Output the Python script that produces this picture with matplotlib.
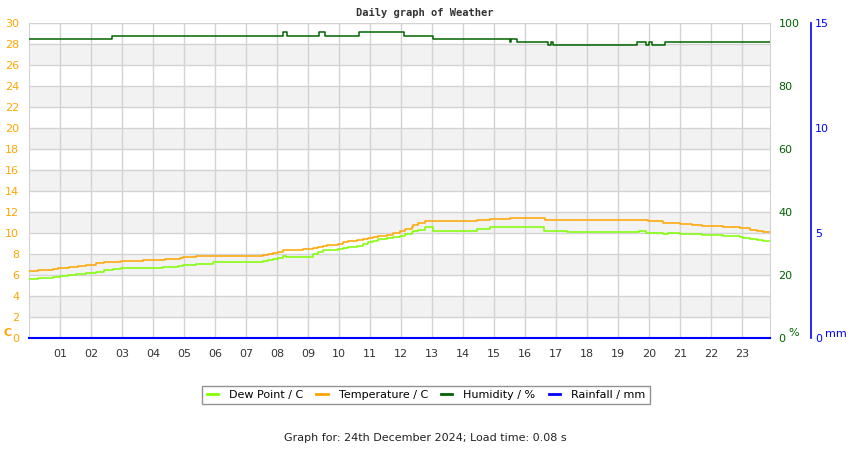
import matplotlib
matplotlib.use("Agg")
import matplotlib.pyplot as plt
import numpy as np

# hour of day -> value, drawn as steps
temp_hours = [0, 0.29, 0.77, 0.94, 1.28, 1.58, 1.85, 2.17, 2.42, 2.98, 3.68, 4.38, 4.86,
              4.97, 5.4, 7.56, 7.72, 7.88, 8.04, 8.2, 8.85, 9.17, 9.33, 9.49, 9.6, 9.98,
              10.14, 10.3, 10.57, 10.78, 10.95, 11.1, 11.27, 11.54, 11.75, 11.97, 12.13,
              12.35, 12.4, 12.56, 12.77, 14.44, 14.87, 15.52, 16.65, 19.98, 20.46, 21.0,
              21.38, 21.7, 22.4, 22.94, 23.26, 23.47, 23.69, 23.9]
temp_vals = [6.4, 6.5, 6.6, 6.7, 6.8, 6.9, 7.0, 7.1, 7.2, 7.3, 7.4, 7.5, 7.6,
             7.7, 7.8, 7.9, 8.0, 8.1, 8.2, 8.4, 8.5, 8.6, 8.7, 8.8, 8.9, 9.0,
             9.1, 9.2, 9.3, 9.4, 9.5, 9.6, 9.7, 9.8, 10.0, 10.2, 10.4,
             10.6, 10.8, 11.0, 11.1, 11.2, 11.3, 11.4, 11.2, 11.1, 11.0, 10.9,
             10.8, 10.7, 10.6, 10.5, 10.3, 10.2, 10.1, 10.1]

dew_hours = [0, 0.29, 0.77, 0.99, 1.26, 1.53, 1.85, 2.17, 2.42, 2.71, 2.98, 3.78, 4.32,
             4.81, 4.97, 5.4, 5.94, 7.56, 7.72, 7.88, 8.04, 8.2, 8.3, 9.17, 9.33, 9.49,
             9.98, 10.14, 10.3, 10.57, 10.78, 10.95, 11.1, 11.27, 11.54, 11.75, 11.97,
             12.13, 12.35, 12.4, 12.56, 12.77, 13.04, 14.44, 14.87, 16.6, 17.07, 17.34,
             19.66, 19.9, 20.46, 20.6, 21.0, 21.38, 21.7, 22.4, 22.94, 23.04, 23.26,
             23.47, 23.69, 23.9]
dew_vals = [5.6, 5.7, 5.8, 5.9, 6.0, 6.1, 6.2, 6.3, 6.45, 6.55, 6.63, 6.7, 6.8,
            6.9, 7.0, 7.05, 7.2, 7.3, 7.4, 7.5, 7.6, 7.8, 7.7, 8.0, 8.2, 8.4,
            8.5, 8.6, 8.7, 8.8, 9.0, 9.1, 9.25, 9.4, 9.5, 9.6, 9.75,
            9.9, 10.05, 10.15, 10.3, 10.55, 10.2, 10.35, 10.6, 10.2, 10.15, 10.1,
            10.2, 10.0, 9.9, 10.0, 9.95, 9.9, 9.8, 9.7, 9.6, 9.5, 9.4,
            9.3, 9.2, 9.2]

hum_hours = [0, 2.68, 8.2, 8.32, 9.35, 9.55, 10.65, 12.1, 13.03, 15.5, 15.55, 15.74,
             16.74, 16.85, 16.9, 19.6, 19.9, 20.0, 20.1, 20.5, 23.9]
hum_vals = [95, 96, 97, 96, 97, 96, 97, 96, 95, 94, 95, 94,
            93, 94, 93, 94, 93, 94, 93, 94, 94]

rain_hours = [0, 23.9]
rain_vals = [0, 0]

hour_labels = ["%02d" % h for h in range(1, 24)]

ORANGE = "#FFA500"
DEWGREEN = "#7FFF00"
HUMGREEN = "#006400"
BLUE = "#0000FF"

fig = plt.figure(figsize=(8.5, 4.5), dpi=100)
ax = fig.add_axes([29 / 850, 1 - 338 / 450, 741 / 850, 315 / 450])

ax.set_xlim(0, 23.9)
ax.set_ylim(0, 30)
for lo in range(2, 30, 4):
    ax.axhspan(lo, lo + 2, color="#f2f2f2", zorder=0, lw=0)
ax.set_yticks(range(0, 31, 2))
ax.set_xticks(range(1, 24))
ax.set_xticklabels(hour_labels)
ax.grid(True, color="#d3d3d3", lw=1, zorder=1)
ax.set_axisbelow(True)
ax.tick_params(axis="y", length=0, pad=7, labelsize=8, labelcolor=ORANGE)
ax.tick_params(axis="x", length=0, pad=8, labelsize=8, labelcolor="#333333")
for s in ax.spines.values():
    s.set_color("#d3d3d3")

ax.step(dew_hours, dew_vals, where="post", color=DEWGREEN, lw=1.1, zorder=3)
ax.step(temp_hours, temp_vals, where="post", color=ORANGE, lw=1.1, zorder=3)

ax2 = ax.twinx()
ax2.set_ylim(0, 100)
ax2.set_yticks(range(0, 101, 20))
ax2.tick_params(axis="y", length=0, pad=6, labelsize=8, labelcolor=HUMGREEN)
for s in ax2.spines.values():
    s.set_visible(False)
ax2.step(hum_hours, hum_vals, where="post", color=HUMGREEN, lw=1.1)

ax3 = ax.twinx()
ax3.set_ylim(0, 15)
ax3.set_yticks([0, 5, 10, 15])
for s in ax3.spines.values():
    s.set_visible(False)
ax3.spines["right"].set_visible(True)
ax3.spines["right"].set_position(("axes", 1.055))
ax3.spines["right"].set_color(BLUE)
ax3.spines["right"].set_linewidth(1.2)
ax3.tick_params(axis="y", length=0, pad=3, labelsize=8, labelcolor=BLUE)
ax3.plot(rain_hours, rain_vals, color=BLUE, lw=1.5, clip_on=False)

fig.text(4 / 850, 1 - 333 / 450, "C", color=ORANGE, fontsize=8, fontweight="bold",
         va="center", ha="left")
fig.text(788 / 850, 1 - 333 / 450, "%", color=HUMGREEN, fontsize=8, va="center", ha="left")
fig.text(825 / 850, 1 - 334 / 450, "mm", color=BLUE, fontsize=8, va="center", ha="left")

fig.text(0.5, 1 - 13 / 450, "Daily graph of Weather", family="DejaVu Sans Mono",
         fontweight="bold", fontsize=7.5, color="#333333", ha="center", va="center")

handles = [plt.Line2D([], [], color=c, lw=2) for c in (DEWGREEN, ORANGE, HUMGREEN, BLUE)]
labels = ["Dew Point / C", "Temperature / C", "Humidity / %", "Rainfall / mm"]
leg = fig.legend(handles, labels, ncol=4, loc="center", bbox_to_anchor=(426 / 850, 1 - 395 / 450),
                 fontsize=8, frameon=True, fancybox=False, handlelength=1.0,
                 columnspacing=1.2, handletextpad=1.0, borderpad=0.4)
leg.get_frame().set_edgecolor("#777777")
leg.get_frame().set_linewidth(1)

fig.text(0.5, 1 - 438 / 450, "Graph for: 24th December 2024; Load time: 0.08 s",
         fontsize=8, color="#222222", ha="center", va="center")

fig.savefig("out.png", dpi=100)
